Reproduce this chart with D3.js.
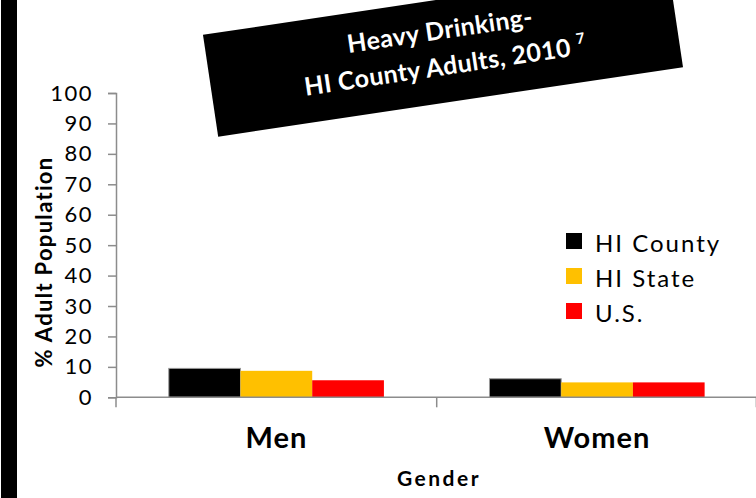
<!DOCTYPE html>
<html>
<head>
<meta charset="utf-8">
<script src="https://cdn.jsdelivr.net/npm/d3@7"></script>
<style>
  body { margin: 0; background: #fff; }
  text { font-family: Lato, "Open Sans", sans-serif; }
</style>
</head>
<body>
<div id="chart"></div>
<script>
// data
var categories = ["Men", "Women"];
var seriesNames = ["HI County", "HI State", "U.S."];
var countyValues = [9.5, 6.1];
var stateValues = [8.7, 4.9];
var usValues = [5.6, 4.9];
var yTicks = [0, 10, 20, 30, 40, 50, 60, 70, 80, 90, 100];
var colors = ["#000000", "#FFC000", "#FF0000"];

var width = 756, height = 498;

var svg = d3.select("#chart")
  .append("svg")
    .attr("width", width)
    .attr("height", height);

// black bar on the left edge
svg.append("rect")
  .attr("x", 1).attr("y", 0)
  .attr("width", 16).attr("height", height)
  .attr("fill", "#000");

// scales
var y = d3.scaleLinear()
  .domain([0, 100])
  .range([397.3, 93]);

var x = d3.scaleBand()
  .domain(categories)
  .range([116, 757.4])
  .padding(0);

var xs = d3.scaleBand()
  .domain(seriesNames)
  .range([0, x.bandwidth()])
  .paddingInner(0)
  .paddingOuter(0.736);

var axisColor = "#8c8c8c";

// Y axis
var yAxis = svg.append("g")
  .attr("transform", "translate(116,0)")
  .call(d3.axisLeft(y).tickValues(yTicks).tickSize(8).tickPadding(15));
yAxis.select(".domain").attr("stroke", axisColor).attr("stroke-width", 1.5);
yAxis.selectAll(".tick line").attr("stroke", axisColor).attr("stroke-width", 1.5);
yAxis.selectAll(".tick text")
  .attr("fill", "#000")
  .style("font-size", "22px")
  .style("letter-spacing", "1.5px")
  .style("font-family", "Lato, sans-serif");

// bars
var rows = [];
categories.forEach(function(c, i) {
  rows.push({cat: c, name: seriesNames[0], value: countyValues[i], color: colors[0]});
  rows.push({cat: c, name: seriesNames[1], value: stateValues[i], color: colors[1]});
  rows.push({cat: c, name: seriesNames[2], value: usValues[i], color: colors[2]});
});

svg.selectAll(".bar")
  .data(rows)
  .enter()
  .append("rect")
    .attr("class", "bar")
    .attr("x", function(d) { return x(d.cat) + xs(d.name); })
    .attr("y", function(d) { return y(d.value); })
    .attr("width", xs.bandwidth())
    .attr("height", function(d) { return y(0) - y(d.value); })
    .attr("fill", function(d) { return d.color; })
    .attr("stroke", function(d) { return d.color === "#000000" ? "#999" : "none"; })
    .attr("stroke-width", 1);

// X axis
var xAxis = svg.append("g")
  .attr("transform", "translate(0," + y(0) + ")");
xAxis.append("line")
  .attr("x1", x.range()[0]).attr("x2", x.range()[1])
  .attr("y1", 0).attr("y2", 0)
  .attr("stroke", axisColor).attr("stroke-width", 1.5);
xAxis.selectAll(".xtick")
  .data(categories.map(function(c) { return x(c); }).concat([x.range()[1] - 1]))
  .enter()
  .append("line")
    .attr("x1", function(d) { return d; }).attr("x2", function(d) { return d; })
    .attr("y1", 0).attr("y2", 10)
    .attr("stroke", axisColor).attr("stroke-width", 1.5);

svg.selectAll(".catlabel")
  .data(categories)
  .enter()
  .append("text")
    .attr("x", function(d) { return x(d) + x.bandwidth() / 2; })
    .attr("y", 448)
    .attr("text-anchor", "middle")
    .style("font-size", "29px")
    .style("letter-spacing", "1px")
    .style("font-weight", "bold")
    .text(function(d) { return d; });

svg.append("text")
  .attr("x", 439).attr("y", 486)
  .attr("text-anchor", "middle")
  .style("font-size", "21px")
  .style("letter-spacing", "2.5px")
  .style("font-weight", "bold")
  .text("Gender");

svg.append("text")
  .attr("transform", "translate(52,262) rotate(-90)")
  .attr("text-anchor", "middle")
  .style("font-size", "22px")
  .style("letter-spacing", "1.3px")
  .style("font-weight", "bold")
  .text("% Adult Population");

// legend
var legend = svg.append("g")
  .attr("transform", "translate(566,233)");
seriesNames.forEach(function(n, i) {
  var g = legend.append("g").attr("transform", "translate(0," + (i * 35) + ")");
  g.append("rect")
    .attr("width", 16).attr("height", 16)
    .attr("fill", colors[i]);
  g.append("text")
    .attr("x", 29).attr("y", 19)
    .style("font-size", "24px")
    .style("letter-spacing", "2px")
    .text(n);
});

// rotated title box
var title = svg.append("g")
  .attr("transform", "translate(443,51) rotate(-8.5)");
title.append("rect")
  .attr("x", -235).attr("y", -51.5)
  .attr("width", 470).attr("height", 103)
  .attr("fill", "#000");
title.append("text")
  .attr("x", 0).attr("y", -12)
  .attr("text-anchor", "middle")
  .attr("fill", "#fff")
  .style("font-size", "25px")
  .style("letter-spacing", "0.4px")
  .style("font-weight", "bold")
  .text("Heavy Drinking-");
var t2 = title.append("text")
  .attr("x", 0).attr("y", 24)
  .attr("text-anchor", "middle")
  .attr("fill", "#fff")
  .style("font-size", "25px")
  .style("letter-spacing", "0.4px")
  .style("font-weight", "bold");
t2.append("tspan").text("HI County Adults, 2010 ");
t2.append("tspan")
  .attr("dy", -11)
  .style("font-size", "15px")
  .text("7");
</script>
</body>
</html>
